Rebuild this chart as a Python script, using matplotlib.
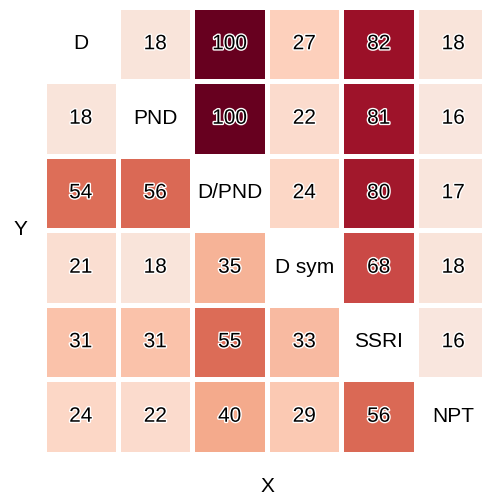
import numpy as np
import matplotlib
matplotlib.use("Agg")
from matplotlib import pyplot as plt
import matplotlib.patheffects as pe
from matplotlib.colors import LinearSegmentedColormap

plt.rcParams['font.family'] = ['Liberation Sans', 'DejaVu Sans']

labels = ["D", "PND", "D/PND", "D sym", "SSRI", "NPT"]
row0 = [np.nan, 18, 100, 27, 82, 18]
row1 = [18, np.nan, 100, 22, 81, 16]
row2 = [54, 56, np.nan, 24, 80, 17]
row3 = [21, 18, 35, np.nan, 68, 18]
row4 = [31, 31, 55, 33, np.nan, 16]
row5 = [24, 22, 40, 29, 56, np.nan]

vals = np.array([row0, row1, row2, row3, row4, row5], dtype=float)
n = len(labels)

# colour ramp
cmap = LinearSegmentedColormap.from_list("ramp", [
    (0.0, "#f7f7f7"), (0.18, "#f9e4da"), (0.27, "#fdd0bc"), (0.35, "#f6b397"),
    (0.40, "#f4aa8c"), (0.54, "#dd6e58"), (0.68, "#cb4a47"), (0.82, "#9b1028"),
    (1.0, "#67001f")])

fig = plt.figure(figsize=(4.82, 4.96), dpi=100)
ax = fig.add_axes([43.5/482, (496-453.5)/496, 447/482, 447/496])

masked = np.ma.masked_invalid(vals)
ax.pcolormesh(np.arange(n+1)-0.5, np.arange(n+1)-0.5, masked,
              cmap=cmap, vmin=0, vmax=100,
              edgecolors="white", linewidth=3.6)
ax.set_xlim(-0.5, n-0.5)
ax.set_ylim(n-0.5, -0.5)

stroke = [pe.withStroke(linewidth=2.0, foreground="white")]
for i in range(n):
    for j in range(n):
        if i == j:
            ax.text(j, i, labels[i], ha="center", va="center", fontsize=15)
        else:
            ax.text(j, i, "%d" % vals[i, j], ha="center", va="center",
                    fontsize=15, path_effects=stroke)

for s in ax.spines.values():
    s.set_visible(False)
ax.set_xticks([])
ax.set_yticks([])
fig.text(267/482, 1-487/496, "X", ha="center", va="center", fontsize=15)
fig.text(20/482, 1-230/496, "Y", ha="center", va="center", fontsize=15)

fig.savefig("out.png", dpi=100)
